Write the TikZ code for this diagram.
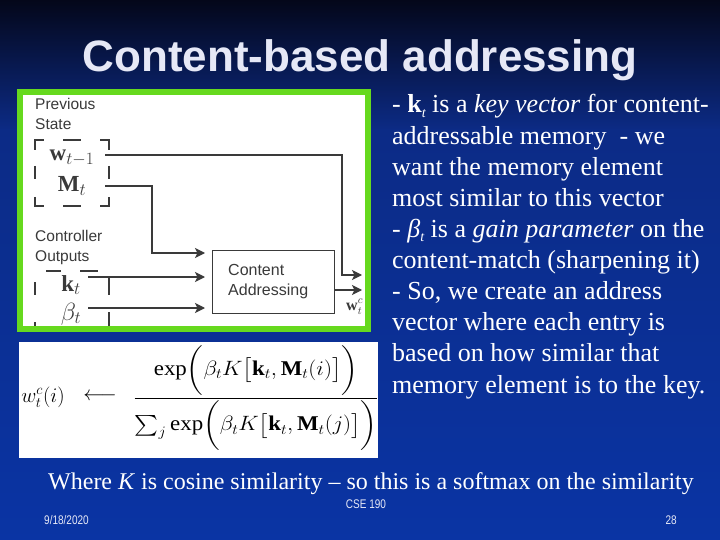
\documentclass[tikz,border=0pt]{standalone}
\usepackage{amsmath}
\usepackage{fontspec}
\setmainfont{Liberation Serif}
\newfontfamily\sansfam{Liberation Sans}
\usetikzlibrary{arrows.meta}
\definecolor{bgtop}{HTML}{04071A}
\definecolor{bgmid}{HTML}{0C2B86}
\definecolor{bgbot}{HTML}{0A34A4}
\definecolor{titlec}{HTML}{E6E8F6}
\definecolor{greenb}{HTML}{66D91E}
\definecolor{ink}{HTML}{3A3A3A}
\newcommand\mysub[1]{\raisebox{-0.35ex}{\fontsize{14}{16}\selectfont\itshape #1}}
\begin{document}
\begin{tikzpicture}[x=1pt,y=-1pt,
  lbl/.style={font=\sansfam\fontsize{15.5}{18}\selectfont, text=ink, inner sep=0, anchor=base west},
  mth/.style={font=\fontsize{23}{26}\selectfont, text=ink, inner sep=0},
  fm/.style={font=\fontsize{21}{24}\selectfont, inner sep=0},
  rt/.style={font=\fontsize{26}{31}\selectfont, text=white, anchor=base west, inner sep=0},
  ft/.style={font=\sansfam\fontsize{12.5}{14}\selectfont, text=titlec, inner sep=0},
  arr/.style={draw=ink, line width=1.3pt, -{Stealth[length=10pt,width=10pt,inset=2.5pt]}},
  dsh/.style={draw=ink, line width=1.3pt}]
\useasboundingbox (0,0) rectangle (720,540);
% background
\fill[top color=bgtop,bottom color=bgmid] (0,0) rectangle (720,131);
\fill[top color=bgmid,bottom color=bgbot] (0,130) rectangle (720,540);
% title
\node[anchor=base, font=\sansfam\bfseries\fontsize{44}{50}\selectfont, text=titlec, inner sep=0] (title) at (360,72) {Content-based addressing};
% diagram panel
\fill[white] (20,92.5) rectangle (368,329);
\node[lbl] (prev) at (35,110) {Previous};
\node[lbl] (state) at (35,130) {State};
\node[lbl] (ctrl) at (35,241) {Controller};
\node[lbl] (outp) at (35,261) {Outputs};
\node[mth] (w) at (72,158) {$\mathbf{w}_{t-1}$};
\node[mth] (M) at (72,186) {$\mathbf{M}_t$};
\node[mth] (k) at (71,285) {$\mathbf{k}_t$};
\node[mth] (b) at (71,314) {$\beta_t$};
% dashed box 1
\draw[dsh] (35,150)--(35,140)--(44,140) (100,140)--(109,140)--(109,150)
  (35,197)--(35,206)--(44,206) (100,206)--(109,206)--(109,197)
  (63,140)--(81,140) (63,206)--(81,206) (35,166)--(35,179) (109,166)--(109,179);
% dashed box 2
\draw[dsh] (46,271)--(61,271) (80,271)--(98,271)
  (35,282)--(35,295) (35,322)--(35,330) (109,277)--(109,295) (109,312)--(109,330);
% content addressing box
\node[draw=ink, line width=1.3pt, minimum width=122pt, minimum height=63pt, inner sep=0, anchor=north west] (ca) at (212,250) {};
\node[lbl, font=\sansfam\fontsize{16}{18}\selectfont] (ca1) at (228,275) {Content};
\node[lbl, font=\sansfam\fontsize{16}{18}\selectfont] (ca2) at (228,295) {Addressing};
% connectors
\coordinate (wL) at (105,155);
\coordinate (ML) at (105,186);
\coordinate (kL) at (88,277);
\coordinate (bL) at (88,308);
\coordinate (wout) at (362,275);
\coordinate (wcout) at (362,290);
\draw[arr] (wL) -- (342,155) -- (342,275) -- (wout);
\draw[arr, shorten >=7pt] (ML) -- (152,186) -- (152,253) -- (ca.west |- 0,253);
\draw[arr, shorten >=7pt] (kL) -- (ca.west |- kL);
\draw[arr, shorten >=7pt] (bL) -- (ca.west |- bL);
\draw[arr] (ca.east |- wcout) -- (wcout);
\node[font=\fontsize{16}{18}\selectfont, text=ink, inner sep=0, anchor=base west] (wc) at (346,310) {$\mathbf{w}^c_t$};
\draw[greenb, line width=6pt] (20,92.5) rectangle (368,329);
% formula panel
\fill[white] (19,342) rectangle (378,458);
\node[fm] (lhs) at (43,397) {$w^c_t(i)$};
\node[fm] (larr) at (100,397) {$\longleftarrow$};
\node[fm] (frac) at (256,398) {\scalebox{1.09}[1]{$\displaystyle\frac{\exp\biggl(\beta_t K\bigl[\mathbf{k}_t,\mathbf{M}_t(i)\bigr]\biggr)}{{\textstyle\sum_j}\exp\biggl(\beta_t K\bigl[\mathbf{k}_t,\mathbf{M}_t(j)\bigr]\biggr)}$}};
% right text
\node[rt] (l1) at (392,113) {- \textbf{k}\mysub{t} is a \textit{key vector} for content-};
\node[rt] (l2) at (392,144.1) {addressable memory\ \ - we};
\node[rt] (l3) at (392,175.2) {want the memory element};
\node[rt] (l4) at (392,206.3) {most similar to this vector};
\node[rt] (l5) at (392,237.4) {- \textit{β}\mysub{t} is a \textit{gain parameter} on the};
\node[rt] (l6) at (392,268.5) {content-match (sharpening it)};
\node[rt] (l7) at (392,299.6) {- So, we create an address};
\node[rt] (l8) at (392,330.7) {vector where each entry is};
\node[rt] (l9) at (392,361.8) {based on how similar that};
\node[rt] (l10) at (392,393) {memory element is to the key.};
% bottom
\node[anchor=base, font=\fontsize{24}{28}\selectfont, text=white, inner sep=0] (where) at (371,489) {Where \textit{K} is cosine similarity -- so this is a softmax on the similarity};
\node[ft, anchor=base] (cse) at (366,508) {\scalebox{0.8}[1]{CSE 190}};
\node[ft, anchor=base west] (date) at (44,524) {\scalebox{0.8}[1]{9/18/2020}};
\node[ft, anchor=base east] (pg) at (677,524) {\scalebox{0.8}[1]{28}};
\end{tikzpicture}
\end{document}
